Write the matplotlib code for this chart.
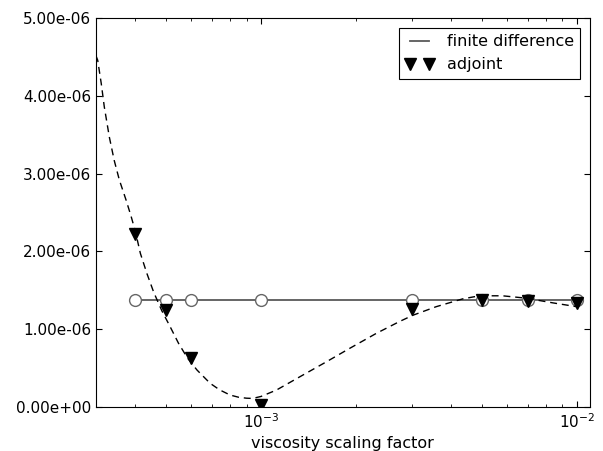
import matplotlib
matplotlib.use("Agg")
import matplotlib.pyplot as plt
from matplotlib.ticker import FormatStrFormatter, NullFormatter, MultipleLocator

# viscosity scaling factors where the gradient was evaluated
visc = [4e-4, 5e-4, 6e-4, 1e-3, 3e-3, 5e-3, 7e-3, 1e-2]
fd_grad = [1.37e-6] * 8  # finite difference reference
adj_grad = [2.22e-6, 1.25e-6, 0.626e-6, 0.02e-6, 1.256e-6, 1.38e-6, 1.366e-6, 1.34e-6]

# smooth fit through the adjoint results
fit_x = [3.0e-4, 3.04e-4, 3.12e-4, 3.19e-4, 3.31e-4, 3.43e-4, 3.56e-4, 3.74e-4,
         3.88e-4, 4.0e-4, 4.15e-4, 4.35e-4, 4.57e-4, 4.85e-4, 5.16e-4, 5.48e-4,
         5.85e-4, 6.27e-4, 6.9e-4, 7.4e-4, 7.98e-4, 8.5e-4, 9.0e-4, 9.4e-4,
         1.0e-3, 1.12e-3, 1.33e-3, 1.61e-3, 1.91e-3, 2.32e-3, 2.75e-3, 3.03e-3,
         3.59e-3, 4.35e-3, 4.92e-3, 5.82e-3, 6.9e-3, 8.38e-3, 1.0e-2]
fit_y = [4.52e-6, 4.46e-6, 4.16e-6, 3.86e-6, 3.47e-6, 3.17e-6, 2.92e-6, 2.66e-6,
         2.45e-6, 2.26e-6, 1.976e-6, 1.72e-6, 1.48e-6, 1.24e-6, 1.03e-6, 0.82e-6,
         0.63e-6, 0.476e-6, 0.305e-6, 0.22e-6, 0.154e-6, 0.125e-6, 0.113e-6, 0.11e-6,
         0.135e-6, 0.218e-6, 0.39e-6, 0.58e-6, 0.754e-6, 0.947e-6, 1.10e-6, 1.18e-6,
         1.29e-6, 1.39e-6, 1.43e-6, 1.43e-6, 1.40e-6, 1.34e-6, 1.29e-6]

fig = plt.figure(figsize=(6.03, 4.51), dpi=100)
ax = fig.add_axes([0.159, 0.0976, 0.819, 0.862])

ax.plot(visc, fd_grad, '-', color='0.35', lw=1.3, label='finite difference')
ax.plot(visc, fd_grad, 'o', ms=8.5, mfc='white', mec='0.4', mew=1.0)
ax.plot(fit_x, fit_y, '--', color='k', lw=1.0, dashes=(5, 3.5))
ax.plot(visc, adj_grad, 'v', ms=8, color='k', linestyle='None', label='adjoint')

ax.set_xscale('log')
ax.set_xlim(3e-4, 1.1e-2)
ax.set_ylim(0, 5e-6)
ax.yaxis.set_major_locator(MultipleLocator(1e-6))
ax.yaxis.set_major_formatter(FormatStrFormatter('%.2e'))
ax.xaxis.set_minor_formatter(NullFormatter())
ax.tick_params(which='both', direction='in', top=True, right=True, labelsize=11)
ax.tick_params(which='major', length=4)
ax.tick_params(which='minor', length=2)
ax.set_xlabel('viscosity scaling factor', fontsize=11.5, labelpad=4)

leg = ax.legend(loc='upper right', numpoints=2, fontsize=11.5, fancybox=False,
                framealpha=1, edgecolor='k', borderaxespad=0.6, handlelength=1.8)
leg.get_frame().set_linewidth(0.8)

fig.savefig('out.png', dpi=100)
